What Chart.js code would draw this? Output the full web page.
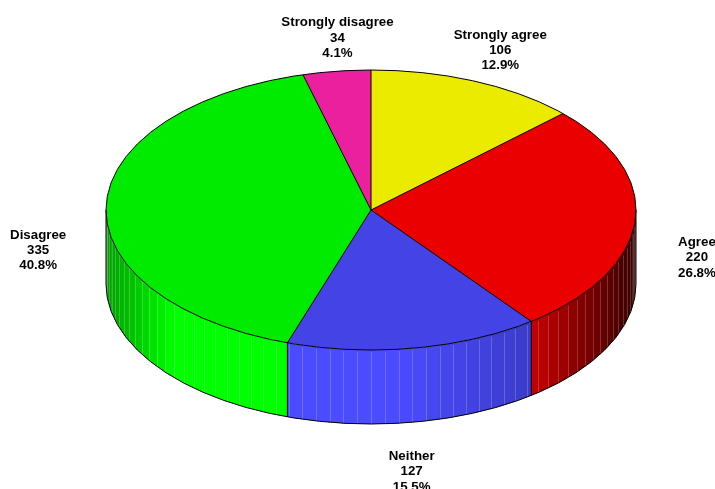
<!DOCTYPE html>
<html>
<head>
<meta charset="utf-8">
<title>Pie</title>
<script src="https://cdn.jsdelivr.net/npm/chart.js@4"></script>
<style>
    html, body { margin: 0; padding: 0; background: #fff; overflow: hidden; }
    canvas { display: block; }
</style>
</head>
<body>
<canvas id="pie-chart" width="715" height="489"></canvas>
<script>
const categories = ['Strongly agree', 'Agree', 'Neither', 'Disagree', 'Strongly disagree'];
const counts = [106, 220, 127, 335, 34];
const percents = ['12.9%', '26.8%', '15.5%', '40.8%', '4.1%'];
const topColors = ['#ebeb00', '#eb0000', '#4343e6', '#00eb00', '#eb209e'];
const wallColors = [[255, 255, 0], [255, 0, 0], [75, 75, 255], [0, 255, 0], [255, 35, 170]];

// ellipse the flat Chart.js pie gets squashed onto
const CX = 371, CY = 210, RX = 265, RY = 140, DEPTH = 74;
const FACET = Math.PI / 60;
// small label nudges, same order as categories
const labelNudge = [[0, -1.5], [-1, -13], [-13, 2.5], [-5, 4], [9, 2]];

function wallShade(a) {
    const u = Math.cos(a);
    if (u < -0.75) return 0.62 + (u + 1) / 0.25 * 0.38;
    if (u < 0.1) return 1;
    if (u < 0.6) return 1 - (u - 0.1) * 0.42;
    return 0.79 - (u - 0.6) * 1.45;
}

function rgb(c, f) {
    return `rgb(${Math.round(c[0] * f)}, ${Math.round(c[1] * f)}, ${Math.round(c[2] * f)})`;
}

function wallPath(ctx, a0, a1) {
    ctx.beginPath();
    ctx.ellipse(CX, CY, RX, RY, 0, a0, a1);
    ctx.ellipse(CX, CY + DEPTH, RX, RY, 0, a1, a0, true);
    ctx.closePath();
}

function drawWall(ctx, arcs) {
    arcs.forEach((arc, i) => {
        const a0 = Math.max(arc.startAngle, 0);
        const a1 = Math.min(arc.endAngle, Math.PI);
        if (a1 <= a0) return;
        const first = Math.floor(a0 / FACET);
        const last = Math.ceil(a1 / FACET);
        // left to right paint overlap so no background shows between facets
        for (let k = first; k < last; k++) {
            const s = Math.max(k * FACET, a0);
            const e = Math.min((k + 1) * FACET + 0.006, a1);
            ctx.fillStyle = rgb(wallColors[i], wallShade((s + e) / 2));
            wallPath(ctx, s, e);
            ctx.fill();
        }
        ctx.strokeStyle = 'rgba(255, 255, 255, 0.2)';
        ctx.lineWidth = 1;
        for (let k = first + 1; k < last; k++) {
            const s = k * FACET;
            const x = Math.round(CX + RX * Math.cos(s)) + 0.5;
            ctx.beginPath();
            ctx.moveTo(x, CY + RY * Math.sin(s) + 2);
            ctx.lineTo(x, CY + DEPTH + RY * Math.sin(s));
            ctx.stroke();
        }
    });
}

function drawOutlines(ctx, arcs) {
    ctx.strokeStyle = '#000';
    ctx.lineWidth = 1;
    // bottom rim and outer edges
    ctx.beginPath();
    ctx.ellipse(CX, CY + DEPTH, RX, RY, 0, 0, Math.PI);
    ctx.stroke();
    ctx.beginPath();
    ctx.moveTo(CX + RX, CY);
    ctx.lineTo(CX + RX, CY + DEPTH);
    ctx.moveTo(CX - RX, CY);
    ctx.lineTo(CX - RX, CY + DEPTH);
    ctx.stroke();
    arcs.forEach(arc => {
        const a = arc.startAngle;
        const x = CX + RX * Math.cos(a);
        const y = CY + RY * Math.sin(a);
        ctx.beginPath();
        ctx.moveTo(CX, CY);
        ctx.lineTo(x, y);
        if (a > 0 && a < Math.PI) {
            ctx.moveTo(x, y);
            ctx.lineTo(x, y + DEPTH);
        }
        ctx.stroke();
    });
    ctx.beginPath();
    ctx.ellipse(CX, CY, RX, RY, 0, 0, Math.PI * 2);
    ctx.stroke();
}

function drawLabels(ctx, arcs) {
    ctx.fillStyle = '#000';
    ctx.font = 'bold 13.3px "Liberation Sans", Arial, sans-serif';
    ctx.textAlign = 'center';
    ctx.textBaseline = 'middle';
    arcs.forEach((arc, i) => {
        const mid = (arc.startAngle + arc.endAngle) / 2;
        const x = CX + 328 * Math.cos(mid) + labelNudge[i][0];
        const y = CY + 176 * Math.sin(mid) + 43 * (1 + Math.sin(mid)) + labelNudge[i][1];
        ctx.fillText(categories[i], x, y - 15.3);
        ctx.fillText(String(counts[i]), x, y);
        ctx.fillText(percents[i], x, y + 15.3);
    });
}

const pie3d = {
    id: 'pie3d',
    beforeDatasetsDraw(chart) {
        const ctx = chart.ctx;
        const arcs = chart.getDatasetMeta(0).data;
        drawWall(ctx, arcs);
        const c = arcs[0];
        ctx.save();
        ctx.translate(CX, CY);
        ctx.scale(RX / c.outerRadius, RY / c.outerRadius);
        ctx.translate(-c.x, -c.y);
    },
    afterDatasetsDraw(chart) {
        const ctx = chart.ctx;
        const arcs = chart.getDatasetMeta(0).data;
        ctx.restore();
        drawOutlines(ctx, arcs);
        drawLabels(ctx, arcs);
    }
};

new Chart(document.getElementById('pie-chart').getContext('2d'), {
    type: 'pie',
    data: {
        labels: categories,
        datasets: [{
            data: counts,
            backgroundColor: topColors,
            borderWidth: 0,
            clip: false
        }]
    },
    options: {
        responsive: false,
        animation: false,
        plugins: {
            legend: { display: false },
            tooltip: { enabled: false }
        }
    },
    plugins: [pie3d]
});
</script>
</body>
</html>
